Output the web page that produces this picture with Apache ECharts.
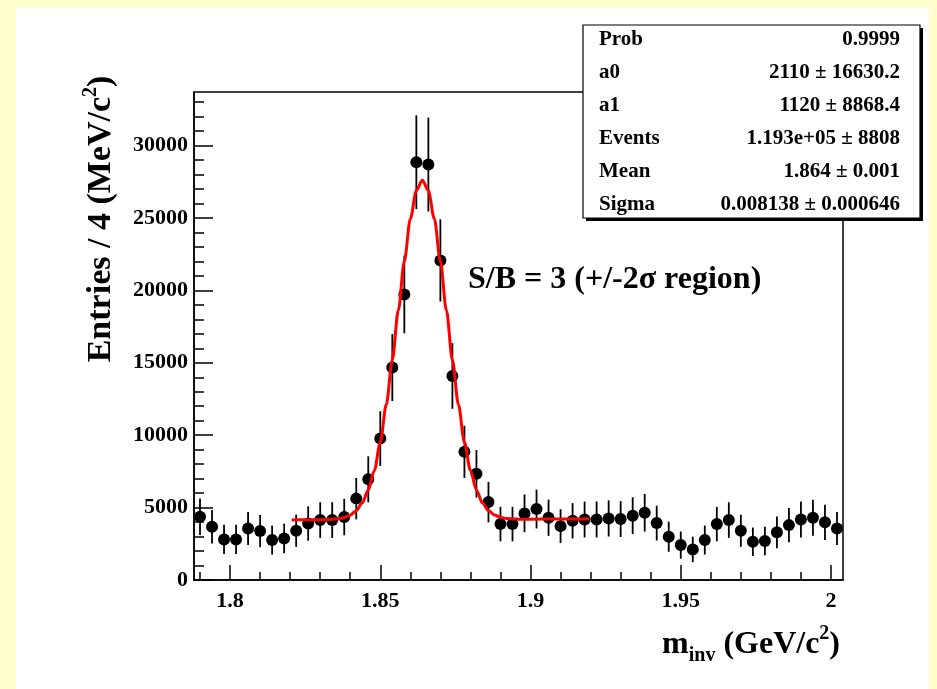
<!DOCTYPE html>
<html>
<head>
<meta charset="utf-8">
<script src="https://cdn.jsdelivr.net/npm/echarts@6/dist/echarts.min.js"></script>
<style>
html, body { margin: 0; padding: 0; background: #fff; }
#chart { width: 937px; height: 689px; }
</style>
</head>
<body>
<div id="chart"></div>
<script>
// histogramme m_inv, bins de 4 MeV/c2
var binCenters = [1.790, 1.794, 1.798, 1.802, 1.806, 1.810, 1.814, 1.818, 1.822, 1.826,
                  1.830, 1.834, 1.838, 1.842, 1.846, 1.850, 1.854, 1.858, 1.862, 1.866,
                  1.870, 1.874, 1.878, 1.882, 1.886, 1.890, 1.894, 1.898, 1.902, 1.906,
                  1.910, 1.914, 1.918, 1.922, 1.926, 1.930, 1.934, 1.938, 1.942, 1.946,
                  1.950, 1.954, 1.958, 1.962, 1.966, 1.970, 1.974, 1.978, 1.982, 1.986,
                  1.990, 1.994, 1.998, 2.002];
var entries = [4370, 3680, 2800, 2800, 3560, 3380, 2760, 2870, 3400, 3900,
               4140, 4140, 4350, 5620, 6950, 9770, 14670, 19720, 28850, 28690,
               22070, 14090, 8850, 7330, 5380, 3860, 3860, 4600, 4900, 4300,
               3720, 4090, 4180, 4180, 4250, 4210, 4440, 4640, 3930, 2990,
               2410, 2110, 2760, 3860, 4140, 3400, 2640, 2690, 3290, 3790,
               4180, 4300, 3980, 3560];
var errors = [1260, 1160, 1010, 1010, 1140, 1110, 1000, 1020, 1110, 1190,
              1230, 1230, 1260, 1430, 1590, 1890, 2310, 2680, 3240, 3240,
              2840, 2270, 1800, 1640, 1400, 1190, 1190, 1300, 1340, 1250,
              1170, 1220, 1240, 1240, 1250, 1240, 1270, 1300, 1200, 1040,
              940, 880, 1000, 1190, 1230, 1110, 980, 990, 1100, 1180,
              1240, 1250, 1210, 1140];

// courbe d'ajustement (gauss + pol1)
var fitX = [1.8205, 1.824, 1.828, 1.832, 1.836, 1.838, 1.840, 1.842, 1.844, 1.846,
            1.848, 1.850, 1.852, 1.854, 1.856, 1.858, 1.860, 1.862, 1.864, 1.866,
            1.868, 1.870, 1.872, 1.874, 1.876, 1.878, 1.880, 1.882, 1.884, 1.886,
            1.888, 1.890, 1.892, 1.896, 1.900, 1.910, 1.9195];
var fitY = [4150, 4155, 4160, 4175, 4230, 4320, 4480, 4790, 5320, 6210,
            7550, 9520, 12120, 15190, 18630, 22020, 24930, 26900, 27600, 26900,
            24930, 22020, 18630, 15190, 12120, 9520, 7560, 6220, 5320, 4800,
            4490, 4330, 4250, 4200, 4200, 4210, 4220];

var xMajor = [1.8, 1.85, 1.9, 1.95, 2.0];
var xMinor = [1.79, 1.80, 1.81, 1.82, 1.83, 1.84, 1.85, 1.86, 1.87, 1.88, 1.89, 1.90,
              1.91, 1.92, 1.93, 1.94, 1.95, 1.96, 1.97, 1.98, 1.99, 2.00];
var yMajor = [0, 5000, 10000, 15000, 20000, 25000, 30000];
var yMinor = [1000, 2000, 3000, 4000, 6000, 7000, 8000, 9000, 11000, 12000, 13000, 14000,
              16000, 17000, 18000, 19000, 21000, 22000, 23000, 24000, 26000, 27000,
              28000, 29000, 31000, 32000, 33000];

var statNames = ['Prob', 'a0', 'a1', 'Events', 'Mean', 'Sigma'];
var statValues = ['0.9999', '2110 \u00b1 16630.2', '1120 \u00b1 8868.4',
                  '1.193e+05 \u00b1 8808', '1.864 \u00b1 0.001', '0.008138 \u00b1 0.000646'];

(function(){

var chart = echarts.init(document.getElementById('chart'));
var serif = '"Liberation Serif", "DejaVu Serif", serif';

var points = [], bars = [], fit = [];
for (var i = 0; i < binCenters.length; i++) {
    points.push([binCenters[i], entries[i]]);
    bars.push([binCenters[i], entries[i], errors[i]]);
}
for (var j = 0; j < fitX.length; j++) fit.push([fitX[j], fitY[j]]);

var graphics = [
    // bords jaunes
    { type: 'rect', shape: { x: 0, y: 0, width: 937, height: 7 }, style: { fill: '#ffffcc' } },
    { type: 'rect', shape: { x: 0, y: 0, width: 16, height: 689 }, style: { fill: '#ffffcc' } },
    { type: 'rect', shape: { x: 929, y: 0, width: 8, height: 689 }, style: { fill: '#ffffcc' } },
    // boite de stats
    { type: 'rect', z: 10, shape: { x: 586, y: 28, width: 337, height: 193 }, style: { fill: '#000' } },
    { type: 'rect', z: 11, shape: { x: 583, y: 25, width: 337, height: 193 },
      style: { fill: '#fff', stroke: '#000', lineWidth: 1.2 } },
    // texte S/B
    { type: 'text', z: 12, x: 468, y: 280,
      style: { text: 'S/B = 3 (+/-2\u03c3 region)', fill: '#000', fontSize: 32, fontWeight: 'bold',
               fontFamily: serif, align: 'left', verticalAlign: 'middle',
               textAlign: 'left', textVerticalAlign: 'middle' } },
    // titre axe y
    { type: 'text', z: 12, x: 101, y: 219, rotation: Math.PI / 2,
      style: { text: 'Entries / 4 (MeV/c{sup|2})', fill: '#000', fontSize: 34, fontWeight: 'bold',
               fontFamily: serif, lineHeight: 40, align: 'center', verticalAlign: 'middle',
               textAlign: 'center', textVerticalAlign: 'middle',
               rich: { sup: { fontSize: 20, fontWeight: 'bold', fontFamily: serif, fill: '#000',
                              verticalAlign: 'top', lineHeight: 20 } } } },
    // titre axe x
    { type: 'text', z: 12, x: 840, y: 645,
      style: { text: 'm{sub|inv} (GeV/c{sup|2})', fill: '#000', fontSize: 32, fontWeight: 'bold',
               fontFamily: serif, lineHeight: 42, align: 'right', verticalAlign: 'middle',
               textAlign: 'right', textVerticalAlign: 'middle',
               rich: { sup: { fontSize: 20, fontWeight: 'bold', fontFamily: serif, fill: '#000',
                              verticalAlign: 'top', lineHeight: 20 },
                       sub: { fontSize: 20, fontWeight: 'bold', fontFamily: serif, fill: '#000',
                              verticalAlign: 'bottom', lineHeight: 20 } } } }
];
for (var k = 0; k < statNames.length; k++) {
    var ty = 40 + 33 * k;
    graphics.push({ type: 'text', z: 12, x: 599, y: ty,
        style: { text: statNames[k], fill: '#000', fontSize: 21, fontWeight: 'bold', fontFamily: serif,
                 align: 'left', verticalAlign: 'middle', textAlign: 'left', textVerticalAlign: 'middle' } });
    graphics.push({ type: 'text', z: 12, x: 900, y: ty,
        style: { text: statValues[k], fill: '#000', fontSize: 21, fontWeight: 'bold', fontFamily: serif,
                 align: 'right', verticalAlign: 'middle', textAlign: 'right', textVerticalAlign: 'middle' } });
}

var labelStyle = { color: '#000', fontSize: 22, fontWeight: 'bold', fontFamily: serif };

option = {
    backgroundColor: '#fff',
    animation: false,
    grid: {
        left: 194, top: 92, right: 94, bottom: 109,
        show: true, borderColor: '#000', borderWidth: 1.5, backgroundColor: '#fff'
    },
    xAxis: [
        {
            type: 'value', min: 1.788, max: 2.004, position: 'bottom',
            axisLine: { lineStyle: { color: '#000', width: 1.5 } },
            axisTick: { inside: true, length: 15, customValues: xMajor, lineStyle: { color: '#000', width: 1.5 } },
            axisLabel: Object.assign({ customValues: xMajor, margin: 10,
                formatter: function (v) { return String(+(+v).toFixed(2)); } }, labelStyle),
            splitLine: { show: false }
        },
        {
            type: 'value', min: 1.788, max: 2.004, position: 'bottom',
            axisLine: { show: false },
            axisTick: { inside: true, length: 8, customValues: xMinor, lineStyle: { color: '#000', width: 1.5 } },
            axisLabel: { show: false },
            splitLine: { show: false }
        }
    ],
    yAxis: [
        {
            type: 'value', min: 0, max: 33700, position: 'left',
            axisLine: { show: true, lineStyle: { color: '#000', width: 1.5 } },
            axisTick: { show: true, inside: true, length: 19, customValues: yMajor, lineStyle: { color: '#000', width: 1.5 } },
            axisLabel: Object.assign({ customValues: yMajor, margin: 6,
                formatter: function (v) { return String(Math.round(v)); } }, labelStyle),
            splitLine: { show: false }
        },
        {
            type: 'value', min: 0, max: 33700, position: 'left',
            axisLine: { show: false },
            axisTick: { show: true, inside: true, length: 10, customValues: yMinor, lineStyle: { color: '#000', width: 1.5 } },
            axisLabel: { show: false },
            splitLine: { show: false }
        }
    ],
    series: [
        {
            name: 'errors',
            type: 'custom',
            xAxisIndex: 0, yAxisIndex: 0,
            z: 2,
            renderItem: function (params, api) {
                var x = api.value(0), y = api.value(1), e = api.value(2);
                var p1 = api.coord([x, y - e]);
                var p2 = api.coord([x, y + e]);
                return {
                    type: 'line',
                    shape: { x1: p1[0], y1: p1[1], x2: p2[0], y2: p2[1] },
                    style: { stroke: '#000', lineWidth: 1.8 }
                };
            },
            encode: { x: 0, y: 1 },
            data: bars
        },
        {
            name: 'entries',
            type: 'scatter',
            xAxisIndex: 0, yAxisIndex: 0,
            z: 3,
            symbol: 'circle',
            symbolSize: 12,
            itemStyle: { color: '#000', opacity: 1 },
            data: points
        },
        {
            name: 'fit',
            type: 'line',
            xAxisIndex: 0, yAxisIndex: 0,
            z: 4,
            smooth: 0.3,
            smoothMonotone: 'x',
            showSymbol: false,
            lineStyle: { color: '#ff0000', width: 3 },
            data: fit
        }
    ],
    graphic: graphics
};

chart.setOption(option);
})();
</script>
</body>
</html>
